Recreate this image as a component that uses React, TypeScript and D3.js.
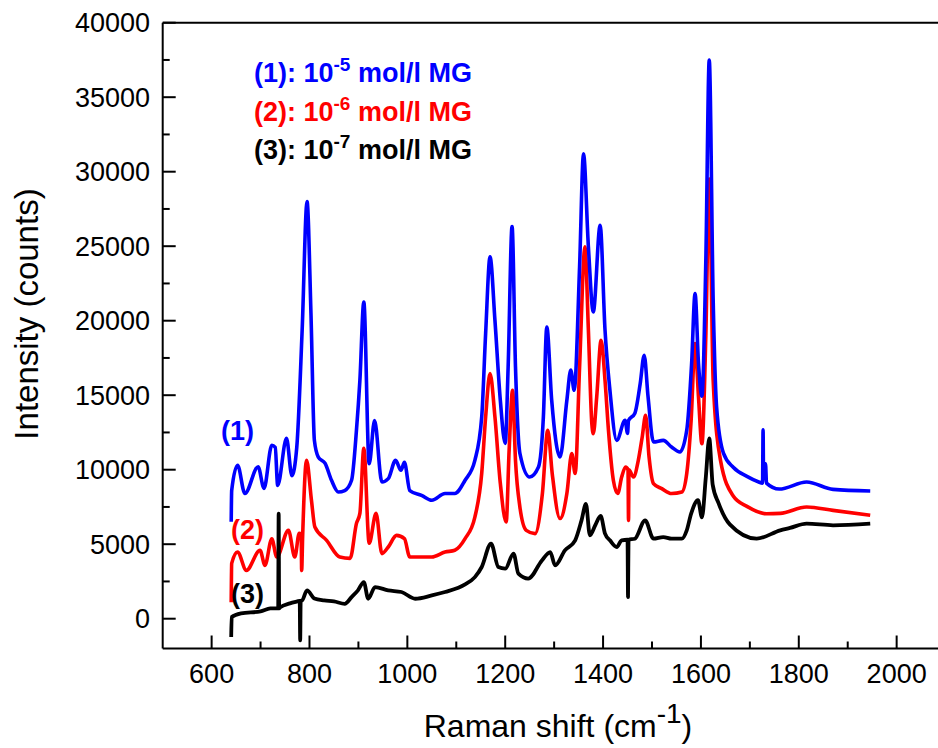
import React from 'react';
import {scaleLinear, line, range, curveMonotoneX} from 'd3';

// Raman spectra of malachite green (MG)
const shift1 = [640, 641, 653, 668, 695, 707, 723, 730, 735, 753, 764, 774, 785, 795, 803, 810, 818, 832, 845, 859, 872, 886, 896, 903, 911, 922, 933, 948, 961, 976, 987, 994, 1005, 1029, 1050, 1077, 1097, 1118, 1138, 1152, 1160, 1169, 1179, 1190, 1200, 1206, 1214, 1221, 1230, 1250, 1268, 1278, 1285, 1295, 1312, 1326, 1334, 1341, 1352, 1360, 1370, 1380, 1394, 1404, 1414, 1428, 1445, 1450, 1452, 1465, 1476, 1484, 1492, 1503, 1523, 1540, 1557, 1571, 1581, 1588, 1595, 1602, 1610, 1617, 1625, 1632, 1646, 1666, 1694, 1717, 1726, 1727, 1728, 1732, 1734, 1760, 1816, 1870, 1946];
const counts1 = [6500, 8600, 10300, 8400, 10200, 8750, 11640, 11500, 8950, 12100, 9600, 11500, 19360, 28000, 20500, 11970, 10850, 10420, 9290, 8500, 8600, 9290, 12650, 16000, 21260, 10400, 13300, 9170, 9400, 10630, 9960, 10500, 8600, 8280, 7950, 8400, 8400, 9290, 10630, 13540, 19150, 24290, 20030, 14660, 11770, 16900, 26320, 16900, 11100, 9510, 10180, 13540, 19580, 14660, 10850, 14660, 16680, 15330, 23610, 31200, 24960, 20590, 26410, 19360, 15330, 11970, 13320, 12440, 13300, 13790, 15800, 17680, 14880, 11860, 11970, 11520, 11190, 12650, 17140, 21830, 17140, 14940, 24000, 37500, 21400, 14220, 11110, 10160, 9550, 9190, 9100, 12670, 9400, 10400, 9100, 8700, 9170, 8680, 8570];

const shift2 = [640, 641, 653, 671, 699, 709, 723, 733, 757, 770, 779, 783, 784, 786, 794, 804, 811, 835, 862, 883, 896, 903, 911, 922, 936, 948, 961, 978, 994, 1005, 1029, 1050, 1077, 1097, 1118, 1138, 1152, 1160, 1169, 1179, 1190, 1202, 1208, 1215, 1221, 1230, 1243, 1261, 1276, 1287, 1296, 1312, 1326, 1336, 1343, 1352, 1363, 1370, 1377, 1380, 1387, 1396, 1404, 1411, 1421, 1430, 1438, 1446, 1451, 1452, 1453, 1462, 1472, 1480, 1487, 1494, 1503, 1520, 1540, 1561, 1571, 1580, 1588, 1595, 1602, 1610, 1617, 1625, 1640, 1666, 1694, 1734, 1762, 1816, 1870, 1946];
const counts2 = [1110, 3710, 4470, 3240, 4590, 3580, 5370, 4140, 5930, 4140, 5730, 5700, 3240, 5500, 10630, 7950, 6150, 5260, 4140, 4050, 6400, 7070, 11440, 5060, 7070, 4370, 4810, 5590, 5370, 4140, 4140, 4140, 4470, 4590, 5370, 6820, 9760, 13540, 16450, 13540, 9090, 6490, 11300, 15330, 10630, 7500, 5930, 5710, 8400, 12650, 9760, 6720, 8400, 11080, 9740, 16900, 24960, 19360, 13100, 12420, 14880, 18690, 16000, 12650, 9290, 8400, 9510, 10180, 10000, 6600, 10000, 9510, 10630, 12200, 13650, 10850, 9070, 8730, 8400, 8500, 9740, 13320, 18470, 14880, 11750, 19000, 29500, 16000, 10630, 8240, 7540, 7040, 7070, 7500, 7270, 6940];

const shift3 = [640, 641, 660, 700, 720, 736, 737, 738, 740, 760, 775, 780, 781, 782, 785, 795, 810, 830, 850, 872, 886, 899, 911, 920, 934, 961, 988, 1016, 1050, 1077, 1118, 1138, 1152, 1171, 1186, 1200, 1217, 1227, 1247, 1275, 1292, 1302, 1322, 1343, 1356, 1365, 1373, 1384, 1395, 1404, 1414, 1428, 1438, 1450, 1451, 1452, 1465, 1486, 1503, 1523, 1540, 1561, 1571, 1580, 1594, 1602, 1610, 1617, 1624, 1636, 1659, 1714, 1762, 1782, 1816, 1870, 1946];
const counts3 = [-1230, 110, 360, 490, 690, 700, 7050, 700, 760, 1030, 1160, 1200, -1460, 1200, 1230, 1900, 1360, 1230, 1160, 1000, 1450, 1900, 2460, 1340, 2120, 1900, 1790, 1340, 1560, 1790, 2300, 2790, 3470, 5040, 3470, 3360, 4370, 3020, 2690, 3910, 4470, 3580, 4590, 5260, 6600, 7700, 5600, 6270, 6900, 5710, 5260, 4810, 5260, 5300, 1450, 5300, 5370, 6600, 5370, 5480, 5370, 5370, 5930, 7050, 7950, 6800, 9500, 12100, 9000, 7760, 6330, 5370, 5930, 6090, 6380, 6270, 6380];

const xTicks = [600, 800, 1000, 1200, 1400, 1600, 1800, 2000];
const yTicks = [0, 5000, 10000, 15000, 20000, 25000, 30000, 35000, 40000];

const width = 938;
const height = 748;
const left = 162.7;
const top = 22.7;
const bottom = 648.5;

const x = scaleLinear().domain([500, 2100]).range([left, left + 1600 * 0.4893]);
const y = scaleLinear().domain([-2000, 40000]).range([bottom, top]);

const path = (xs: number[], ys: number[]) =>
  line<number>()
    .x((d) => x(xs[d]))
    .y((d) => y(ys[d]))
    .curve(curveMonotoneX)(range(xs.length)) || '';

const font = 'Arial, "Liberation Sans", sans-serif';

export default function App() {
  const minorX = range(700, 2100, 200);
  const minorY = range(2500, 40000, 5000);
  return (
    <svg width={width} height={height} style={{position: 'absolute', left: 0, top: 0, background: '#fff'}} fontFamily={font}>
      <path d={path(shift2, counts2)} fill="none" stroke="#ff0000" strokeWidth={3.6} strokeLinejoin="round" />
      <path d={path(shift1, counts1)} fill="none" stroke="#0000ff" strokeWidth={3.6} strokeLinejoin="round" />
      <path d={path(shift3, counts3)} fill="none" stroke="#000" strokeWidth={3.8} strokeLinejoin="round" />

      {/* frame */}
      <line x1={left} x2={width} y1={top} y2={top} stroke="#000" strokeWidth={2} />
      <line x1={left} x2={width} y1={bottom} y2={bottom} stroke="#000" strokeWidth={2} />
      <line x1={left} x2={left} y1={top} y2={bottom} stroke="#000" strokeWidth={2} />

      {xTicks.map((t) => (
        <g key={t}>
          <line x1={x(t)} x2={x(t)} y1={bottom} y2={bottom - 13} stroke="#000" strokeWidth={2} />
          <text x={x(t)} y={683} textAnchor="middle" fontSize={27}>{t}</text>
        </g>
      ))}
      {minorX.map((t) => (
        <line key={t} x1={x(t)} x2={x(t)} y1={bottom} y2={bottom - 7} stroke="#000" strokeWidth={2} />
      ))}
      {yTicks.map((t) => (
        <g key={t}>
          <line x1={left} x2={left + 13} y1={y(t)} y2={y(t)} stroke="#000" strokeWidth={2} />
          <text x={150} y={y(t)} dy="0.36em" textAnchor="end" fontSize={27}>{t}</text>
        </g>
      ))}
      {minorY.map((t) => (
        <line key={t} x1={left} x2={left + 7} y1={y(t)} y2={y(t)} stroke="#000" strokeWidth={2} />
      ))}

      <text transform="translate(38, 314) rotate(-90)" textAnchor="middle" fontSize={33}>Intensity (counts)</text>
      <text x={558} y={737} textAnchor="middle" fontSize={32}>
        Raman shift (cm<tspan dy={-14} fontSize={28}>-1</tspan><tspan dy={14}>)</tspan>
      </text>

      <g fontWeight="bold" fontSize={27}>
        <text x={254} y={82} fill="#0000ff">(1): 10<tspan dy={-11} fontSize={19}>-5</tspan><tspan dy={11}> mol/l MG</tspan></text>
        <text x={254} y={121} fill="#ff0000">(2): 10<tspan dy={-11} fontSize={19}>-6</tspan><tspan dy={11}> mol/l MG</tspan></text>
        <text x={254} y={159} fill="#000">(3): 10<tspan dy={-11} fontSize={19}>-7</tspan><tspan dy={11}> mol/l MG</tspan></text>
        <text x={221} y={440} fill="#0000ff">(1)</text>
        <text x={231} y={539} fill="#ff0000">(2)</text>
        <text x={231} y={603} fill="#000">(3)</text>
      </g>
    </svg>
  );
}
